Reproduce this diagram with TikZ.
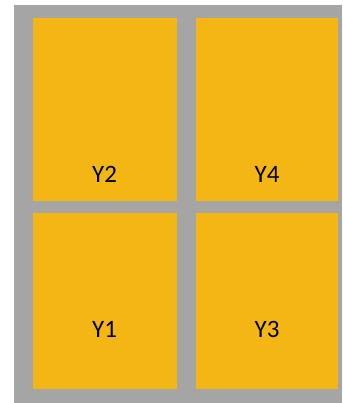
\documentclass[tikz,border=0pt]{standalone}
\usepackage{fontspec}
\setmainfont{Carlito}
\definecolor{panelgray}{HTML}{A5A5A5}
\definecolor{gold}{HTML}{F4B614}
\usetikzlibrary{positioning}
\tikzset{
  pane/.style={fill=gold,draw=none,inner sep=0pt,anchor=north west,
    minimum width=143.5pt,minimum height=183pt},
  panelow/.style={pane,minimum height=176pt},
  tag/.style={font=\fontsize{25}{30}\selectfont,text=black,inner sep=0pt}
}
\begin{document}
\begin{tikzpicture}[x=1pt,y=-1pt]
  \useasboundingbox (0,0) rectangle (342,403);
  % frame
  \fill[panelgray] (14,5) rectangle (342,403);
  % panes
  \node[pane] (y2) at (33,18) {};
  \node[pane,minimum width=142pt] (y4) at (196,18) {};
  \node[panelow] (y1) at (33,213) {};
  \node[panelow,minimum width=142pt] (y3) at (196,213) {};
  % labels
  \node[tag] (t2) at (104.5,174.5) {Y2};
  \node[tag] (t4) at (267,174.5) {Y4};
  \node[tag] (t1) at (104.5,329.5) {Y1};
  \node[tag] (t3) at (267,329.5) {Y3};
\end{tikzpicture}
\end{document}
